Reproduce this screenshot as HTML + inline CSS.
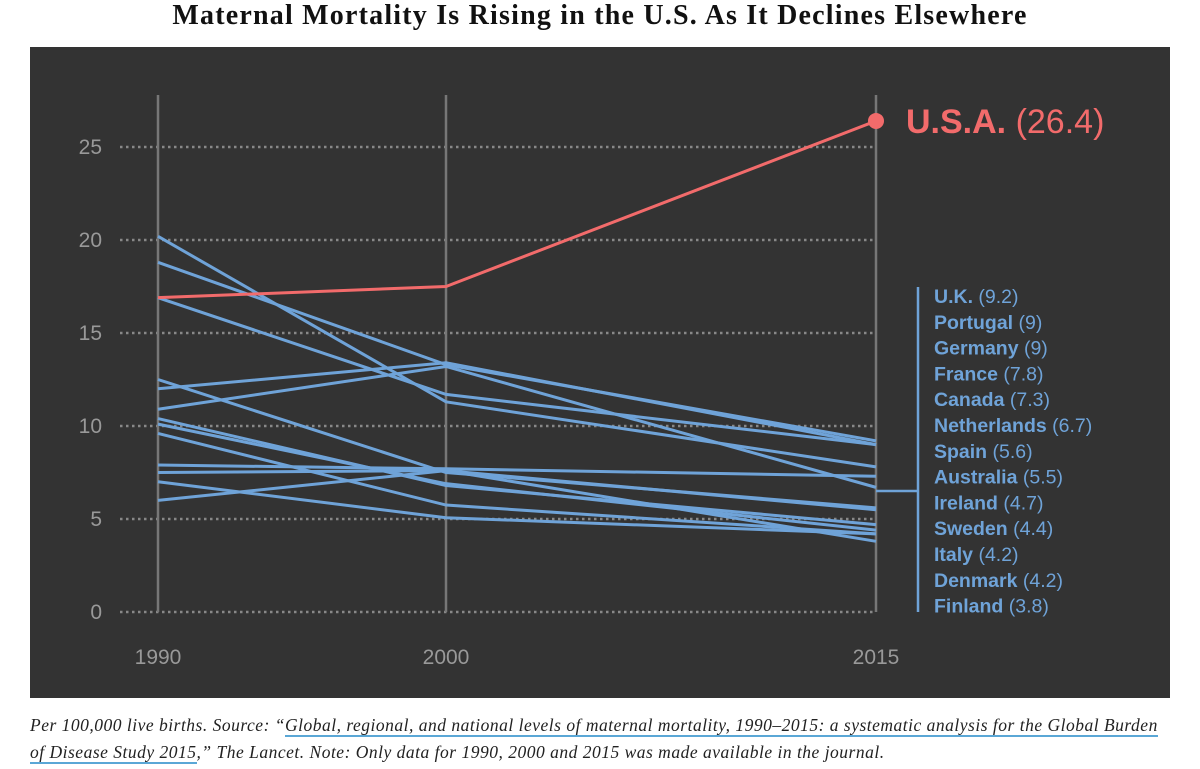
<!DOCTYPE html>
<html><head><meta charset="utf-8"><style>
body{margin:0;width:1200px;height:769px;background:#fff;overflow:hidden;font-family:"Liberation Sans",sans-serif;}
#title{position:absolute;left:0;width:1200px;top:0;text-align:center;font:bold 28px "Liberation Serif",serif;letter-spacing:1.2px;color:#111;line-height:32px;}
#panel{position:absolute;left:30px;top:47px;width:1140px;height:651px;background:#333;}
#foot{position:absolute;left:30px;top:712px;width:1145px;font:italic 17.5px "Liberation Serif",serif;color:#222;line-height:27px;letter-spacing:0.5px;}
#foot u{text-decoration:none;border-bottom:2px solid #5aa7d6;}
svg{position:absolute;left:0;top:0;}
</style></head><body>
<div id="title">Maternal Mortality Is Rising in the U.S. As It Declines Elsewhere</div>
<div id="panel"></div>
<svg id="chart" width="1200" height="769"></svg>
<div id="foot">Per 100,000 live births. Source: “<u>Global, regional, and national levels of maternal mortality, 1990–2015: a systematic analysis for the Global Burden of Disease Study 2015</u>,” The Lancet. Note: Only data for 1990, 2000 and 2015 was made available in the journal.</div>
<script>
const years=[1990,2000,2015];
const yTicks=[0,5,10,15,20,25];
const usa=[16.9,17.5,26.4];
const countries=["U.K.","Portugal","Germany","France","Canada","Netherlands","Spain","Australia","Ireland","Sweden","Italy","Denmark","Finland"];
const v1990=[18.8,12.0,16.9,20.2,7.9,10.9,12.5,7.5,10.4,10.1,9.6,7.0,6.0];
const v2000=[13.3,13.4,11.7,11.3,7.7,13.2,7.5,7.6,6.8,6.9,5.75,5.07,7.6];
const v2015=[9.2,9,9,7.8,7.3,6.7,5.6,5.5,4.7,4.4,4.2,4.2,3.8];
const NS="http://www.w3.org/2000/svg";
const svg=document.getElementById('chart');
const xs={1990:158,2000:446,2015:876};
const x=yr=>xs[yr];
const y=v=>612-v*18.6;
function mk(t,a){const e=document.createElementNS(NS,t);for(const k in a)e.setAttribute(k,a[k]);svg.appendChild(e);return e;}
yTicks.forEach(t=>{
 const g=mk('line',{x1:120,x2:876,y1:y(t),y2:y(t),stroke:'#888','stroke-width':2.5,'stroke-dasharray':'2.5 3.5'});
 
 
 const l=mk('text',{x:102,y:y(t)+7,'text-anchor':'end',fill:'#999','font-size':21,'font-family':'Liberation Sans'});
 l.textContent=t;
 
 
});
years.forEach(yr=>{
 const v=mk('line',{x1:x(yr),x2:x(yr),y1:95,y2:612,stroke:'#777','stroke-width':2.5});
 
 
 const l=mk('text',{x:x(yr),y:664,'text-anchor':'middle',fill:'#999','font-size':21,'font-family':'Liberation Sans'});
 l.textContent=yr;
 
 
});
countries.forEach((c,i)=>{
 const vals=[v1990[i],v2000[i],v2015[i]];
 const p=mk('polyline',{points:vals.map((v,j)=>x(years[j])+','+y(v)).join(' '),fill:'none',stroke:'#6fa3d8','stroke-width':3});
 
 
});
const u=mk('polyline',{points:usa.map((v,j)=>x(years[j])+','+y(v)).join(' '),fill:'none',stroke:'#f26b6b','stroke-width':3});


const d=mk('circle',{cx:x(2015),cy:y(usa[2]),r:8,fill:'#f26b6b'});


const ul=mk('text',{x:906,y:y(usa[2])+12,fill:'#f26b6b','font-size':34,'font-family':'Liberation Sans'});
ul.innerHTML='<tspan font-weight="bold">U.S.A.</tspan> ('+usa[2]+')';


const b=mk('path',{d:'M918 287V612M876 491H918',stroke:'#6fa3d8','stroke-width':2.5,fill:'none'});


countries.forEach((c,i)=>{
 const t=mk('text',{x:934,y:303+i*25.8,fill:'#6fa3d8','font-size':19.5,'font-family':'Liberation Sans'});
 t.innerHTML='<tspan font-weight="bold">'+c+'</tspan> ('+v2015[i]+')';
 
 
});
</script>
</body></html>
